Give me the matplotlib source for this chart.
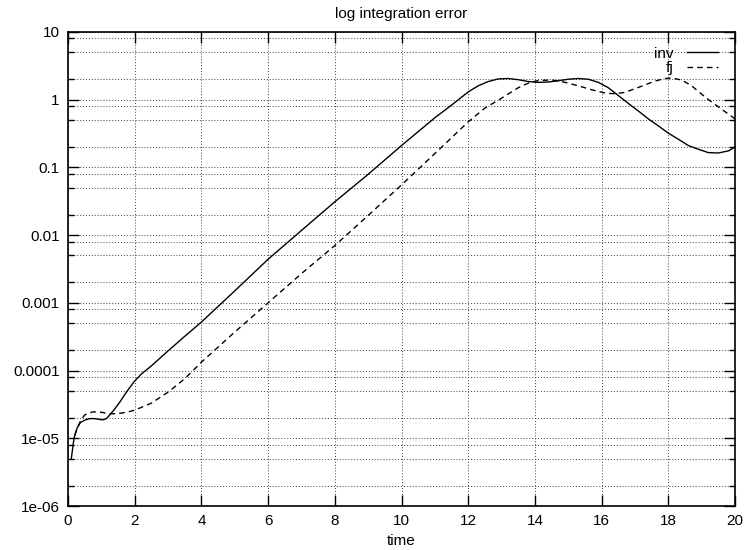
import numpy as np
import matplotlib.pyplot as plt
from matplotlib.ticker import LogLocator, NullFormatter

plt.rcParams['font.family'] = ['Liberation Sans', 'DejaVu Sans']

# values
t_inv = [0.1, 0.18, 0.27, 0.37, 0.5, 0.65, 0.8, 0.95, 1.05, 1.15, 1.25, 1.4, 1.55, 1.7, 1.85,
         2.0, 2.2, 2.5, 3.0, 3.5, 4.0, 5.0, 6.0, 7.0, 8.0, 9.0, 10.0, 11.0, 11.5, 12.0,
         12.3, 12.6, 12.9, 13.2, 13.5, 13.8, 14.1, 14.4, 14.7, 15.0, 15.3, 15.6, 15.9,
         16.2, 16.5, 16.8, 17.1, 17.4, 17.7, 18.0, 18.3, 18.6, 18.9, 19.2, 19.5, 19.8, 20.0]
inv = [5.0e-6, 1.0e-5, 1.4e-5, 1.7e-5, 1.85e-5, 1.95e-5, 1.95e-5, 1.9e-5, 1.87e-5, 1.95e-5,
       2.2e-5, 2.7e-5, 3.4e-5, 4.4e-5, 5.6e-5,
       7.0e-5, 8.9e-5, 1.17e-4, 1.95e-4, 3.2e-4, 5.2e-4, 1.5e-3, 4.4e-3, 1.17e-2, 3.1e-2,
       7.9e-2, 0.21, 0.54, 0.83, 1.3,
       1.6, 1.85, 2.02, 2.05, 1.97, 1.85, 1.8, 1.82, 1.9, 2.0, 2.05, 2.0, 1.8,
       1.5, 1.15, 0.88, 0.68, 0.52, 0.41, 0.32, 0.26, 0.21, 0.185, 0.165, 0.163, 0.175, 0.2]

t_fj = [0.2, 0.3, 0.4, 0.5, 0.6, 0.75, 0.9, 1.05, 1.2, 1.35, 1.6, 1.8, 2.0, 2.5, 3.0, 3.25,
        3.5, 3.75, 4.0, 5.0, 6.0, 7.0, 8.0, 9.0, 10.0, 11.0, 12.0, 12.5, 13.0, 13.5, 13.8,
        14.1, 14.5, 14.9, 15.3, 15.7, 16.1, 16.4, 16.7, 17.0, 17.3, 17.6, 17.9, 18.1, 18.4,
        18.7, 19.0, 19.3, 19.6, 20.0]
fj = [1.1e-5, 1.5e-5, 1.9e-5, 2.2e-5, 2.35e-5, 2.45e-5, 2.45e-5, 2.4e-5, 2.3e-5, 2.3e-5,
      2.35e-5, 2.45e-5, 2.6e-5, 3.3e-5, 4.8e-5, 6.0e-5,
      7.6e-5, 1.0e-4, 1.33e-4, 3.7e-4, 1.0e-3, 2.7e-3, 7.0e-3, 1.95e-2, 5.5e-2, 0.16, 0.47,
      0.75, 1.05, 1.5, 1.75,
      1.92, 1.95, 1.8, 1.6, 1.4, 1.25, 1.22, 1.28, 1.45, 1.65, 1.88, 2.05, 2.08, 1.95,
      1.6, 1.2, 0.92, 0.72, 0.52]

fig = plt.figure(figsize=(7.47, 5.5), dpi=100)
ax = fig.add_axes([0.091, 0.080, 0.893, 0.862])

ax.plot(t_inv, inv, '-', color='black', lw=1.0, label='inv')
ax.plot(t_fj, fj, '--', color='black', lw=1.0, dashes=(4, 3), label='fj')

ax.set_yscale('log')
ax.set_xlim(0, 20)
ax.set_ylim(1e-6, 10)
ax.set_xticks(np.arange(0, 21, 2))
ax.set_yticks([1e-6, 1e-5, 1e-4, 1e-3, 1e-2, 1e-1, 1, 10])
ax.set_yticklabels(['1e-06', '1e-05', '0.0001', '0.001', '0.01', '0.1', '1', '10'])
ax.yaxis.set_minor_locator(LogLocator(base=10, subs=[2, 5, 8]))
ax.yaxis.set_minor_formatter(NullFormatter())

ax.grid(True, which='both', axis='y', linestyle=(0, (1, 2)), color='0.25', lw=0.7)
ax.grid(True, which='major', axis='x', linestyle=(0, (1, 2)), color='0.25', lw=0.7)

ax.tick_params(which='major', direction='in', length=8, width=1, top=True, right=True,
               labelsize=11, pad=6)
ax.tick_params(which='minor', direction='in', length=4, width=1, top=True, right=True)
for s in ax.spines.values():
    s.set_linewidth(1.2)

ax.set_title('log integration error', fontsize=11, pad=10)
ax.set_xlabel('time', fontsize=11, labelpad=4)

ax.legend(loc='upper right', frameon=False, markerfirst=False, fontsize=11,
          handlelength=2.0, handletextpad=0.9, labelspacing=0.05,
          bbox_to_anchor=(0.995, 0.998))

fig.savefig('out.png', dpi=100)
